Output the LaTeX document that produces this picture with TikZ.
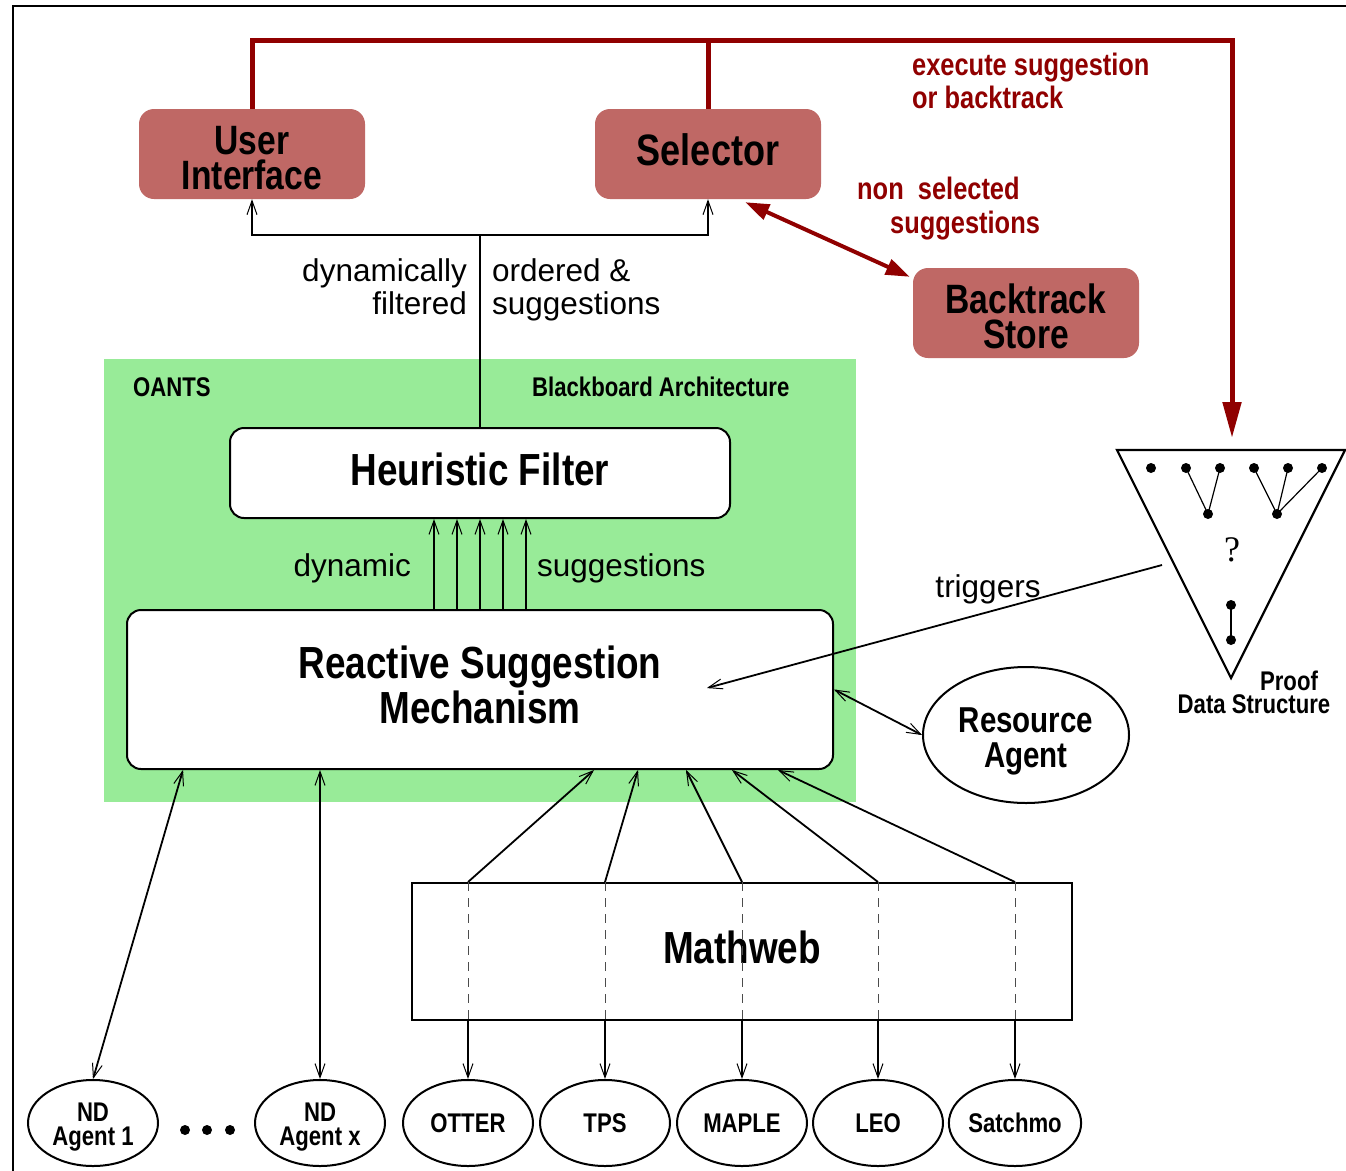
\documentclass[tikz,border=0pt]{standalone}
\usepackage{fontspec}
\setmainfont{Liberation Sans}
\newfontfamily\cfont[FakeStretch=0.82]{Liberation Sans}
\newfontfamily\sfont{Liberation Serif}
\usetikzlibrary{arrows.meta,shapes.geometric}
\definecolor{dred}{RGB}{144,0,0}
\definecolor{boxred}{RGB}{191,104,101}
\definecolor{bbgreen}{RGB}{152,235,152}
\begin{document}
\begin{tikzpicture}[x=1pt,y=-1pt,
  redbox/.style={draw=none, fill=boxred, rounded corners=15pt, minimum width=226pt, minimum height=90pt, inner sep=0pt, align=center},
  whitebox/.style={draw, line width=2pt, fill=white, rounded corners=14pt, inner sep=0pt, align=center},
  boxtext/.style={inner sep=0pt, align=center},
  ellip/.style={draw, ellipse, line width=2pt, inner sep=0pt, align=center},
  tool/.style={ellip, minimum width=130pt, minimum height=86pt, font=\cfont\bfseries\fontsize{27}{24}\selectfont},
  barb/.style={-{Straight Barb[length=14pt,width=10pt,line width=1pt]}},
  dbarb/.style={{Straight Barb[length=14pt,width=10pt,line width=1pt]}-{Straight Barb[length=14pt,width=10pt,line width=1pt]}},
  conn/.style={line width=1.8pt},
  dashline/.style={line width=1pt, black!70, dash pattern=on 9pt off 7pt},
  redline/.style={draw=dred, line width=5pt, line join=miter},
  plain/.style={inner sep=0pt, font=\fontsize{31.5}{34}\selectfont},
  redlbl/.style={inner sep=0pt, text=dred, font=\cfont\bfseries\fontsize{31}{34}\selectfont},
  smlbl/.style={inner sep=0pt, font=\cfont\bfseries\fontsize{27}{24}\selectfont},
]
\useasboundingbox (0,0) rectangle (1346,1170);
% frame
\draw[line width=1.5pt] (13,1180) -- (13,6) -- (1356,6);
% green blackboard
\fill[bbgreen] (104,359) rectangle (856,802);
\node[smlbl, anchor=base west] (oants) at (133,396) {OANTS};
\node[smlbl, anchor=base west] (bba) at (532,396) {Blackboard Architecture};

% red boxes
\node[redbox] (ui) at (252,154) {};
\node[boxtext, font=\cfont\bfseries\fontsize{41}{35}\selectfont] (uitxt) at ([yshift=-4pt]ui.center) {User\\Interface};
\node[redbox] (sel) at (708,154) {};
\node[boxtext, font=\cfont\bfseries\fontsize{44}{44}\selectfont] (seltxt) at ([yshift=4pt]sel.center) {Selector};
\node[redbox] (bt) at (1026,313) {};
\node[boxtext, font=\cfont\bfseries\fontsize{41}{35}\selectfont] (bttxt) at ([yshift=-3pt]bt.center) {Backtrack\\Store};

% white boxes
\node[whitebox, minimum width=500pt, minimum height=90pt] (hf) at (480,473) {};
\node[boxtext, font=\cfont\bfseries\fontsize{45}{45}\selectfont] (hftxt) at ([yshift=4pt]hf.center) {Heuristic Filter};
\node[whitebox, minimum width=706pt, minimum height=159pt] (rsm) at (480,689.5) {};
\node[boxtext, font=\cfont\bfseries\fontsize{45}{45}\selectfont] (rsmtxt) at ([yshift=5pt]rsm.center) {Reactive Suggestion\\Mechanism};
\node[draw, line width=2pt, inner sep=0pt, minimum width=660pt, minimum height=137pt] (mw) at (742,951.5) {};
\node[boxtext, font=\cfont\bfseries\fontsize{45}{45}\selectfont] (mwtxt) at ([yshift=4pt]mw.center) {Mathweb};

% resource agent
\node[ellip, minimum width=206pt, minimum height=136pt] (res) at (1026,735) {};
\node[boxtext, font=\cfont\bfseries\fontsize{36}{35}\selectfont] (restxt) at ([yshift=-6pt]res.center) {Resource\\Agent};

% proof data structure
\draw[line width=2.2pt, line join=miter] (1117,450) -- (1345,450) -- (1231,678) -- cycle;
\foreach \px in {1151,1186,1220,1254,1288,1322} \fill (\px,468) circle (5pt);
\fill (1208,514) circle (5pt);
\fill (1277,514) circle (5pt);
\draw[line width=1.2pt] (1186,468) -- (1208,514) -- (1220,468);
\draw[line width=1.2pt] (1254,468) -- (1277,514) -- (1288,468);
\draw[line width=1.2pt] (1277,514) -- (1322,468);
\node[inner sep=0pt, font=\sfont\fontsize{36}{36}\selectfont] (qm) at (1232,550) {?};
\fill (1231,605) circle (5pt);
\fill (1231,640) circle (5pt);
\draw[line width=1.2pt] (1231,605) -- (1231,640);
\node[smlbl, anchor=base] (proof) at (1289,690) {Proof};
\node[smlbl, anchor=base] (pds) at (1254,713) {Data Structure};
\coordinate (ptop) at (1232,438);
\coordinate (trig) at (1162,565);

% red connectors
\draw[redline, -{Triangle[length=36pt,width=18pt]}] (ui.north) |- (1232,40) -- (ptop);
\draw[redline] (sel.north) -- (sel.north |- 0,40);
\draw[dred, line width=4pt, {Triangle[length=24pt,width=16pt]}-{Triangle[length=24pt,width=16pt]}] ([xshift=-76pt,yshift=-3pt]sel.south east) -- ([xshift=-3pt,yshift=-9pt]bt.north west);
\node[redlbl, anchor=base west] (ex1) at (912,75) {execute suggestion};
\node[redlbl, anchor=base west] (ex2) at (912,108) {or backtrack};
\node[redlbl, anchor=base west] (ns1) at (857,199) {non\ \ selected};
\node[redlbl, anchor=base west] (ns2) at (890,233) {suggestions};

% filtered suggestions to UI and selector
\coordinate (jn) at (480,235);
\draw[conn, barb] (hf.north) -- (jn) -| (ui.south);
\draw[conn, barb] (jn) -| (sel.south);
\node[plain, anchor=base east] (l1) at (467,281) {dynamically};
\node[plain, anchor=base east] (l2) at (467,314) {filtered};
\node[plain, anchor=base west] (l3) at (492,281) {ordered \&};
\node[plain, anchor=base west] (l4) at (492,314) {suggestions};

% dynamic suggestions
\foreach \dx in {-46,-23,0,23,46}
  \draw[conn, barb] ([xshift=\dx pt]rsm.north) -- ([xshift=\dx pt]hf.south);
\node[plain, anchor=base east] (d1) at (411,576) {dynamic};
\node[plain, anchor=base west] (d2) at (537,576) {suggestions};

% triggers
\draw[conn, barb] (trig) -- ([xshift=227pt,yshift=1.5pt]rsm.center);
\node[plain, anchor=base] (tr) at (988,597) {triggers};

% resource agent arrow
\draw[conn, dbarb] (rsm.east) -- (res.west);

% ND agents
\node[tool] (nd1) at (93,1123) {};
\node[boxtext, font=\cfont\bfseries\fontsize{27}{24}\selectfont] (nd1txt) at ([yshift=-4pt]nd1.center) {ND\\Agent 1};
\node[tool] (ndx) at (320,1123) {};
\node[boxtext, font=\cfont\bfseries\fontsize{27}{24}\selectfont] (ndxtxt) at ([yshift=-4pt]ndx.center) {ND\\Agent x};
\draw[conn, dbarb] ([xshift=-297pt]rsm.south) -- (nd1.north);
\draw[conn, dbarb] (ndx.north |- rsm.south) -- (ndx.north);
\foreach \dd in {185,207,230} \fill (\dd,1130) circle (5pt);

% mathweb tools
\foreach \n/\xx/\lbl/\dt in {otter/468/OTTER/114, tps/605/TPS/158, maple/742/MAPLE/206, leo/878/LEO/252, satch/1015/Satchmo/298} {
  \node[tool] (\n) at (\xx,1123) {\lbl};
  \draw[conn, barb] (\n.north |- mw.north) -- ([xshift=\dt pt]rsm.south);
  \draw[dashline] (\n.north |- mw.north) -- (\n.north |- mw.south);
  \draw[conn, barb] (\n.north |- mw.south) -- (\n.north);
}
\end{tikzpicture}
\end{document}
